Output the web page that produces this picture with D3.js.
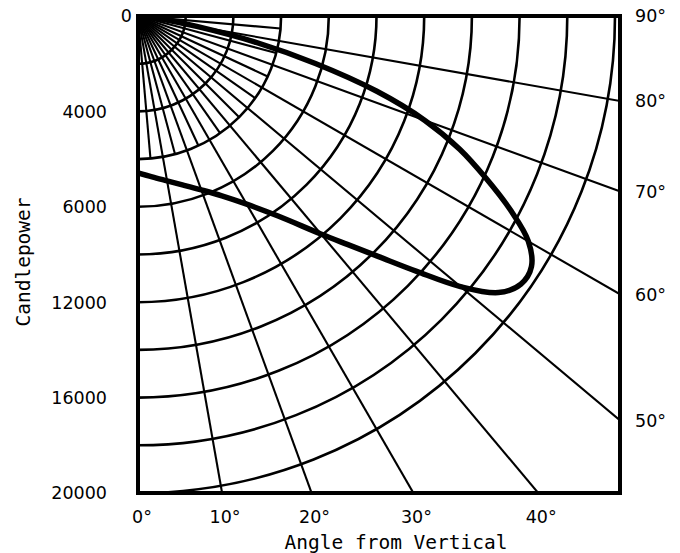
<!DOCTYPE html>
<html><head><meta charset="utf-8">
<script src="https://cdn.jsdelivr.net/npm/d3@7"></script>
<style>body{margin:0;background:#fff}svg{display:block}</style>
</head><body>
<svg id="c" width="680" height="553"></svg>
<script>
// ---- data ----
const angles = [0,5,10,15,20,25,30,35,40,42.5,45,47.5,50,52.5,55,57.5,60,62.5,65,67.5,70,72.5,75,77.5,80,82.5,85,87.5,90];
const candlepower = [6583,6775,7020,7340,7760,8320,9110,10240,11930,12990,14270,15850,17650,19050,19600,19560,18900,17600,16100,14600,12800,10500,7700,5000,2500,1100,400,80,0];
const cpTickValues = [0,4000,8000,12000,16000,20000];
const cpTickLabels = ["0","4000","6000","12000","16000","20000"];
const ringValues = [2000,4000,6000,8000,10000,12000,14000,16000,18000,20000];
const majorSpokes = [10,20,30,40,50,60,70,80];
const minorSpokes = [5,15,25,35,45,55,65,75,85];
const minorSpokeLength = 6000;
const bottomAngleTicks = [0,10,20,30,40];
const bottomAngleLabels = ["0°","10°","20°","30°","40°"];
const rightAngleTicks = [90,80,70,60,50];
const rightAngleLabels = ["90°","80°","70°","60°","50°"];

// ---- layout ----
const ox = 138, oy = 16, pw = 482, ph = 477;
const svg = d3.select("#c");
const r = d3.scaleLinear().domain([0,20000]).range([0,ph]);
const rad = d => d*Math.PI/180;

svg.append("defs").append("clipPath").attr("id","clip")
  .append("rect").attr("x",ox).attr("y",oy).attr("width",pw).attr("height",ph);

const g = svg.append("g").attr("clip-path","url(#clip)");

// rings
const arc = d3.arc().startAngle(Math.PI/2).endAngle(Math.PI);
g.selectAll("path.ring").data(ringValues).join("path")
  .attr("class","ring")
  .attr("transform",`translate(${ox},${oy})`)
  .attr("d", v => arc({innerRadius:r(v), outerRadius:r(v)}))
  .attr("fill","none").attr("stroke","#000").attr("stroke-width",2.6);

// spokes
const far = 2000;
g.selectAll("line.major").data(majorSpokes).join("line")
  .attr("x1",ox).attr("y1",oy)
  .attr("x2",a => ox + far*Math.sin(rad(a)))
  .attr("y2",a => oy + far*Math.cos(rad(a)))
  .attr("stroke","#000").attr("stroke-width",2.1);
g.selectAll("line.minor").data(minorSpokes).join("line")
  .attr("x1",ox).attr("y1",oy)
  .attr("x2",a => ox + r(minorSpokeLength)*Math.sin(rad(a)))
  .attr("y2",a => oy + r(minorSpokeLength)*Math.cos(rad(a)))
  .attr("stroke","#000").attr("stroke-width",2.1);

// curve
const pts = angles.map((a,i)=>({a, v:candlepower[i]}));
const line = d3.line()
  .x(d => ox + r(d.v)*Math.sin(rad(d.a)))
  .y(d => oy + r(d.v)*Math.cos(rad(d.a)))
  .curve(d3.curveCatmullRom.alpha(0.5));
g.append("path").attr("d", line(pts))
  .attr("fill","none").attr("stroke","#000").attr("stroke-width",5.5)
  .attr("stroke-linecap","round").attr("stroke-linejoin","round");

// frame
svg.append("rect").attr("x",ox).attr("y",oy).attr("width",pw).attr("height",ph)
  .attr("fill","none").attr("stroke","#000").attr("stroke-width",4);

// left labels
const yS = d3.scaleLinear().domain([0,20000]).range([oy, oy+ph]);
svg.selectAll("text.cp").data(cpTickValues).join("text")
  .attr("x",(d,i)=> i===0 ? 132 : 107)
  .attr("y",d => yS(d))
  .attr("dy","0.36em")
  .attr("text-anchor","end")
  .attr("font-family","DejaVu Sans").attr("font-size",17.5)
  .text((d,i)=>cpTickLabels[i]);

// bottom labels
svg.selectAll("text.ba").data(bottomAngleTicks).join("text")
  .attr("x",(a,i)=> ox + r(20000)*Math.tan(rad(a)) + (i===0?4:3))
  .attr("y",517).attr("dy","0.36em")
  .attr("text-anchor","middle")
  .attr("font-family","DejaVu Sans").attr("font-size",17.5)
  .text((d,i)=>bottomAngleLabels[i]);

// right labels
svg.selectAll("text.ra").data(rightAngleTicks).join("text")
  .attr("x",635)
  .attr("y",a => oy + (a===90?0: pw/Math.tan(rad(a))))
  .attr("dy","0.36em")
  .attr("font-family","DejaVu Sans").attr("font-size",17.5)
  .text((d,i)=>rightAngleLabels[i]);

// axis titles
svg.append("text").attr("transform","translate(23,262) rotate(-90)")
  .attr("text-anchor","middle").attr("dy","0.35em")
  .attr("font-family","DejaVu Sans Mono").attr("font-size",19.5)
  .text("Candlepower");
svg.append("text").attr("x",396).attr("y",542).attr("dy","0.35em")
  .attr("text-anchor","middle")
  .attr("font-family","DejaVu Sans Mono").attr("font-size",19.5)
  .text("Angle from Vertical");
</script>
</body></html>
